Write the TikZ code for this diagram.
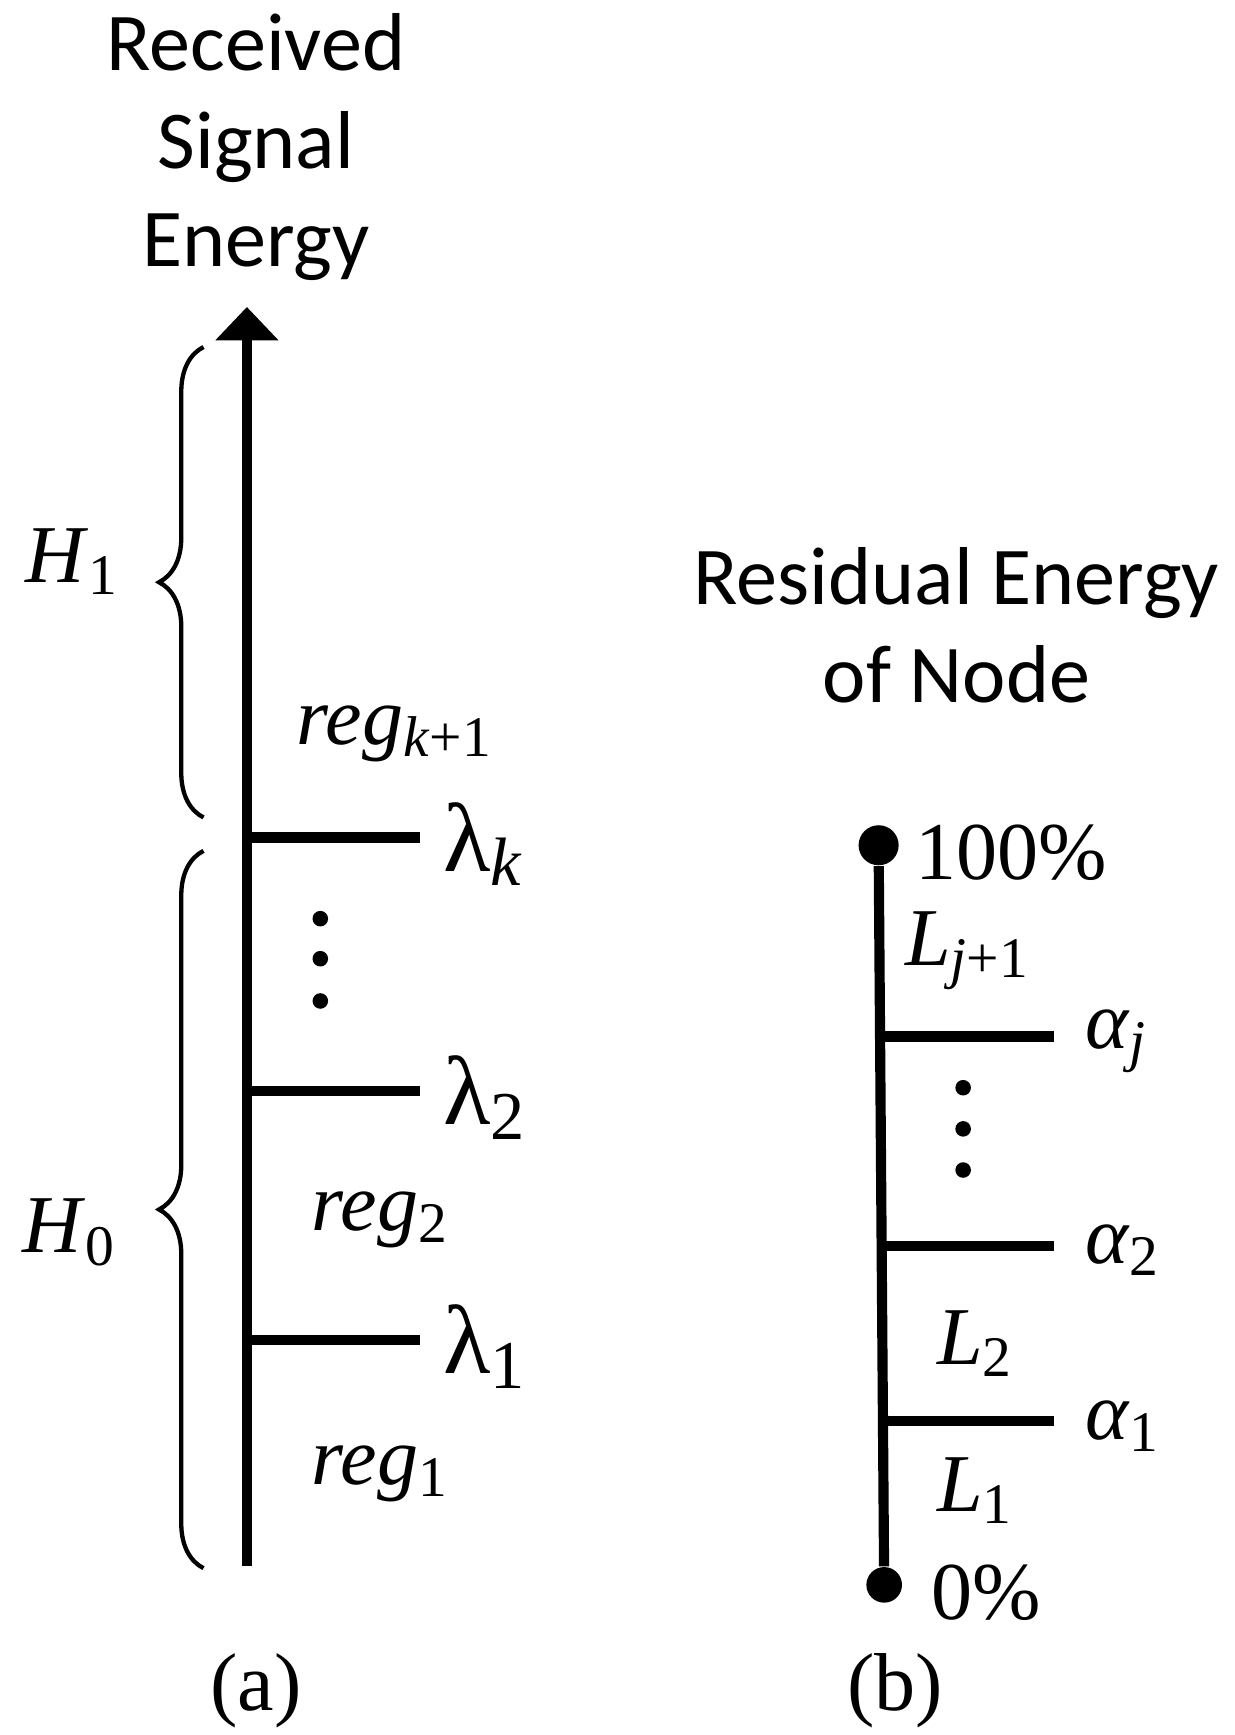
\documentclass[tikz,border=0pt]{standalone}
\usepackage{fontspec}
\setmainfont{Liberation Serif}
\newfontfamily\sans{Carlito}
\usetikzlibrary{decorations.pathreplacing,arrows.meta}
\newcommand{\sbs}[1]{\textsubscript{#1}}
\begin{document}
\begin{tikzpicture}[x=0.01cm,y=-0.01cm,
  ax/.style={line width=2.6pt},
  lab/.style={font=\fontsize{21}{23}\selectfont, inner sep=0pt},
  ttl/.style={font=\sans\fontsize{21}{25}\selectfont, align=center, inner sep=0pt},
  dotp/.style={circle, fill=black, inner sep=0pt, minimum size=0.14cm},
  br/.style={decorate, decoration={brace, amplitude=0.4cm}, line width=1.1pt}]
\useasboundingbox (0,0) rectangle (1110,1560);
% (a)
\node[ttl] (t1) at (230,132) {Received\\Signal\\Energy};
\coordinate (a0) at (222,1408);
\coordinate (a1) at (222,276);
\draw[ax, -{Triangle[length=0.3cm,width=0.55cm]}] (a0) -- (a1);
\foreach \y/\n/\t in {753/k/{λ\sbs{\textit{k}}},981/2/{λ\sbs{2}},1205/1/{λ\sbs{1}}}{
  \coordinate (s\n) at (222,\y);
  \coordinate (e\n) at (378,\y);
  \draw[ax] (s\n) -- (e\n);
  \node[lab, anchor=west, font=\fontsize{25}{27}\selectfont] (l\n) at (398,\y+6) {\t};
}
\foreach \y/\n in {826/1,862/2,900/3} \node[dotp] (da\n) at (288,\y) {};
\node[lab] (r3) at (355,660) {\textit{reg}\sbs{\textit{k}+1}};
\node[lab] (r2) at (342,1097) {\textit{reg}\sbs{2}};
\node[lab] (r1) at (342,1325) {\textit{reg}\sbs{1}};
\coordinate (b1a) at (183,735); \coordinate (b1b) at (183,312);
\draw[br] (b1a) -- (b1b);
\coordinate (b0a) at (183,1410); \coordinate (b0b) at (183,765);
\draw[br] (b0a) -- (b0b);
\node[lab] (h1) at (65,505) {\textit{H}\sbs{1}};
\node[lab] (h0) at (62,1108) {\textit{H}\sbs{0}};
\node[lab] (ca) at (230,1520) {(a)};
% (b)
\node[ttl] (t2) at (860,562) {Residual Energy\\of Node};
\node[circle, fill=black, minimum size=0.36cm, inner sep=0pt] (top) at (790,760) {};
\node[circle, fill=black, minimum size=0.32cm, inner sep=0pt] (bot) at (795,1425) {};
\draw[ax] (top) -- (bot);
\node[lab, anchor=west] (p100) at (822,767) {100\%};
\node[lab, anchor=west] (p0) at (837,1432) {0\%};
\foreach \y/\n/\t in {932/j/{\textit{α}\sbs{\textit{j}}},1120/2/{\textit{α}\sbs{2}},1278/1/{\textit{α}\sbs{1}}}{
  \coordinate (bs\n) at (793,\y);
  \coordinate (be\n) at (948,\y);
  \draw[ax] (bs\n) -- (be\n);
  \node[lab, anchor=west] (al\n) at (975,\y+4) {\t};
}
\foreach \y/\n in {978/1,1015/2,1052/3} \node[dotp] (db\n) at (866,\y) {};
\node[lab] (lj) at (870,855) {\textit{L}\sbs{\textit{j}+1}};
\node[lab] (l2) at (877,1208) {\textit{L}\sbs{2}};
\node[lab] (l1) at (877,1340) {\textit{L}\sbs{1}};
\node[lab] (cb) at (805,1520) {(b)};
\end{tikzpicture}
\end{document}
